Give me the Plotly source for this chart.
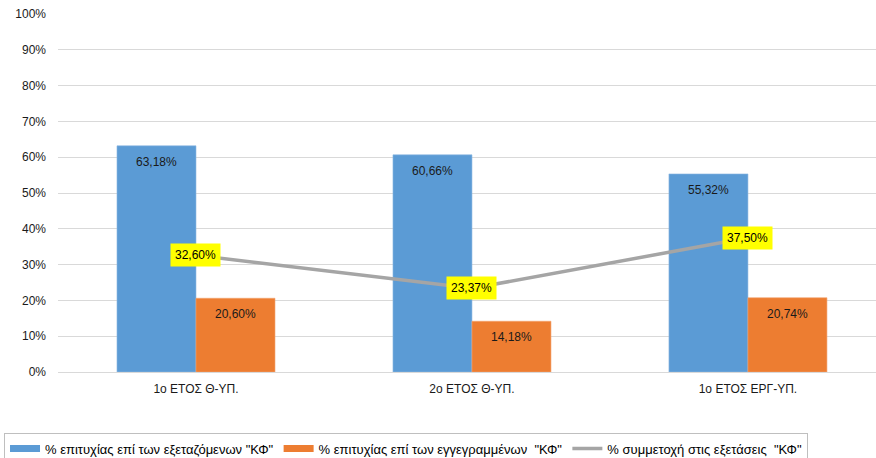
import plotly.graph_objects as go

categories = ["1ο ΕΤΟΣ Θ-ΥΠ.", "2ο ΕΤΟΣ Θ-ΥΠ.", "1ο ΕΤΟΣ ΕΡΓ-ΥΠ."]
success_examined = [0.6318, 0.6066, 0.5532]
success_enrolled = [0.2060, 0.1418, 0.2074]
participation = [0.3260, 0.2337, 0.3750]
y_ticks = [i / 10 for i in range(11)]
y_tick_labels = [f"{i * 10}%" for i in range(11)]

name_examined = '% επιτυχίας επί των εξεταζόμενων "ΚΦ"'
name_enrolled = '% επιτυχίας επί των εγγεγραμμένων  "ΚΦ"'
name_part = '% συμμετοχή στις εξετάσεις  "ΚΦ"'

BLUE = "#5B9BD5"
ORANGE = "#ED7D31"
GREY = "#A5A5A5"


def fmt(v):
    return f"{v * 100:.2f}%".replace(".", ",")


FONT = "Liberation Sans, Arial, sans-serif"
LABEL_COLOR = "#1a1a1a"
x_idx = list(range(len(categories)))
BARGAP = 0.4275
bar_w = (1 - BARGAP) / 2

fig = go.Figure()
fig.add_trace(go.Bar(
    x=x_idx, y=success_examined, name=name_examined, showlegend=False,
    marker=dict(color=BLUE, line=dict(color="#8DB8E3", width=0.6)),
    hoverinfo="skip",
))
fig.add_trace(go.Bar(
    x=x_idx, y=success_enrolled, name=name_enrolled, showlegend=False,
    marker=dict(color=ORANGE, line=dict(color="#F4A36E", width=0.6)),
    hoverinfo="skip",
))
fig.add_trace(go.Scatter(
    x=x_idx, y=participation, name=name_part, mode="lines", showlegend=False,
    line=dict(color=GREY, width=3.5),
    hoverinfo="skip",
))
# legend entries (wide flat swatches like the original)
for nm, col, w in [(name_examined, BLUE, 7), (name_enrolled, ORANGE, 7), (name_part, GREY, 3.5)]:
    fig.add_trace(go.Scatter(
        x=[None], y=[None], mode="lines", name=nm,
        line=dict(color=col, width=w), hoverinfo="skip",
    ))

# bar value labels (inside end)
for vals, off in [(success_examined, -bar_w / 2), (success_enrolled, bar_w / 2)]:
    for xi, v in zip(x_idx, vals):
        fig.add_annotation(
            x=xi + off, y=v, xref="x", yref="y", text=fmt(v), showarrow=False,
            yanchor="middle", yshift=-16,
            font=dict(family=FONT, size=12, color=LABEL_COLOR),
        )

# participation labels (yellow boxes centred on points)
for xi, v in zip(x_idx, participation):
    fig.add_annotation(
        x=xi, y=v, xref="x", yref="y", text=fmt(v), showarrow=False,
        bgcolor="#FFFF00", borderpad=4,
        font=dict(family=FONT, size=12, color="#000000"),
    )

fig.update_layout(
    width=876, height=458,
    margin=dict(l=58, r=0, t=14, b=86, autoexpand=False),
    paper_bgcolor="white", plot_bgcolor="white",
    barmode="group", bargap=BARGAP, bargroupgap=0,
    font=dict(family=FONT, size=12, color="#262626"),
    showlegend=True,
    legend=dict(
        orientation="h", x=-0.066, xanchor="left", y=-0.169, yanchor="top",
        bordercolor="#BFBFBF", borderwidth=1,
        font=dict(family=FONT, size=13, color="#000000"),
        itemwidth=30, tracegroupgap=0,
    ),
    xaxis=dict(
        range=[-0.5, 2.464], tickmode="array", tickvals=x_idx, ticktext=categories,
        showgrid=False, showline=True, linecolor="#D9D9D9", linewidth=1,
        ticks="", ticklabelstandoff=6,
        tickfont=dict(family=FONT, size=12, color="#1a1a1a"),
        fixedrange=True, zeroline=False,
    ),
    yaxis=dict(
        range=[0, 1], tickmode="array", tickvals=y_ticks, ticktext=y_tick_labels,
        showgrid=True, gridcolor="#D9D9D9", gridwidth=1, zeroline=False,
        ticks="", ticklabelstandoff=11,
        tickfont=dict(family=FONT, size=12, color="#1a1a1a"),
        fixedrange=True,
    ),
)

fig.write_html(
    "out.html",
    config={"displayModeBar": False, "staticPlot": True},
    post_script="document.body.style.margin='0';document.body.style.overflow='hidden';",
)
